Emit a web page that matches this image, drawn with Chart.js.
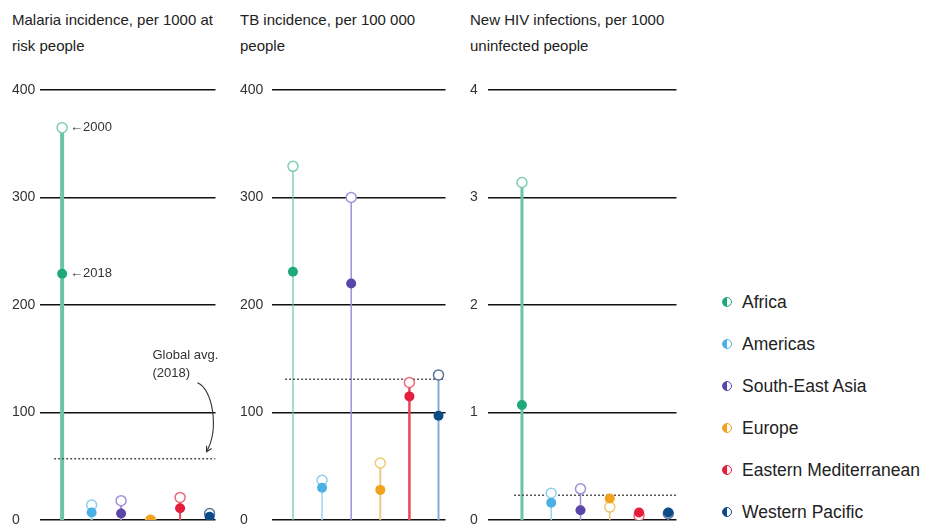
<!DOCTYPE html>
<html>
<head>
<meta charset="utf-8">
<script src="https://cdn.jsdelivr.net/npm/chart.js@4.4.0/dist/chart.umd.min.js"></script>
<style>
    html, body {
        margin: 0;
        padding: 0;
        width: 926px;
        height: 524px;
        overflow: hidden;
        background: #fff;
        font-family: "Liberation Sans", Arial, sans-serif;
    }
    .panel-title {
        position: absolute;
        top: 7px;
        font-size: 15px;
        line-height: 26px;
        color: #222;
        white-space: nowrap;
    }
    canvas {
        position: absolute;
        top: 70px;
    }
    #legend {
        position: absolute;
        left: 722px;
        top: 281px;
    }
    .legend-item {
        height: 42px;
        display: flex;
        align-items: center;
        font-size: 17.5px;
        color: #222;
        white-space: nowrap;
    }
    .legend-mark {
        width: 8px;
        height: 8px;
        border-radius: 50%;
        border: 1.5px solid;
        margin-right: 10px;
    }
</style>
</head>
<body>

<div class="panel-title" style="left:12px">Malaria incidence, per 1000 at<br>risk people</div>
<div class="panel-title" style="left:240px">TB incidence, per 100 000<br>people</div>
<div class="panel-title" style="left:470px">New HIV infections, per 1000<br>uninfected people</div>

<canvas id="malariaChart" width="210" height="470" style="left:12px"></canvas>
<canvas id="tbChart" width="212" height="470" style="left:240px"></canvas>
<canvas id="hivChart" width="213" height="470" style="left:470px"></canvas>

<div id="legend"></div>

<script>
    const regions = ['Africa', 'Americas', 'South-East Asia', 'Europe', 'Eastern Mediterranean', 'Western Pacific'];

    const malaria2000 = [365, 14, 18, 0, 21, 6];
    const malaria2018 = [229, 7, 6, 0, 11, 3];
    const malariaAvg2018 = 57;
    const malariaTicks = [0, 100, 200, 300, 400];

    const tb2000 = [329, 37, 300, 53, 128, 135];
    const tb2018 = [231, 30, 220, 28, 115, 97];
    const tbAvg2018 = 131;
    const tbTicks = [0, 100, 200, 300, 400];

    const hiv2000 = [3.14, 0.25, 0.29, 0.12, 0.04, 0.06];
    const hiv2018 = [1.07, 0.16, 0.09, 0.20, 0.07, 0.07];
    const hivAvg2018 = 0.23;
    const hivTicks = [0, 1, 2, 3, 4];

    const fillColors = ['#1fa97a', '#4bb0e6', '#5a45a8', '#f2a31b', '#e41e3c', '#0d4b87'];
    const openColors = ['#7fcdb2', '#8ccfee', '#a290d8', '#f0c86e', '#ec6a7c', '#56759a'];
    const stemColors = ['#6cc4a5', '#9fd4ee', '#a28fd8', '#e8c67a', '#e8475c', '#86acd2'];

    // where the first region sits and how wide the y label column is, per panel
    const panels = [
        { id: 'malariaChart', v2000: malaria2000, v2018: malaria2018, avg: malariaAvg2018, ticks: malariaTicks,
          axisWidth: 28, xMin: -0.75, xMax: 5.2, stemWidths: [4, 2, 2, 2, 2, 2], notes: true },
        { id: 'tbChart', v2000: tb2000, v2018: tb2018, avg: tbAvg2018, ticks: tbTicks,
          axisWidth: 32, xMin: -0.72, xMax: 5.24, stemWidths: [1.2, 1.5, 1.5, 1.8, 2.5, 2], notes: false },
        { id: 'hivChart', v2000: hiv2000, v2018: hiv2018, avg: hivAvg2018, ticks: hivTicks,
          axisWidth: 18, xMin: -1.16, xMax: 5.28, stemWidths: [3, 1.5, 1.5, 1.5, 1.5, 1.5], notes: false },
    ];

    const notesPlugin = {
        id: 'notes',
        afterDatasetsDraw(chart) {
            if (!chart.options.plugins.notes.show) return;
            const ctx = chart.ctx;
            const x = chart.scales.x;
            const y = chart.scales.y;
            const area = chart.chartArea;
            ctx.save();
            ctx.fillStyle = '#333';
            ctx.font = '13px "Liberation Sans", Arial, sans-serif';
            ctx.textBaseline = 'middle';
            ctx.textAlign = 'left';
            ctx.fillText('\u2190' + '2000', x.getPixelForValue(0) + 8, y.getPixelForValue(malaria2000[0]));
            ctx.fillText('\u2190' + '2018', x.getPixelForValue(0) + 8, y.getPixelForValue(malaria2018[0]));

            const yAvg = y.getPixelForValue(malariaAvg2018);
            const tx = area.right - 63;
            ctx.fillText('Global avg.', tx, yAvg - 103);
            ctx.fillText('(2018)', tx, yAvg - 85);

            // curved arrow down to the dotted line
            const sx = area.right - 18, sy = yAvg - 76;
            const ex = area.right - 9, ey = yAvg - 7;
            const c1x = area.right - 3, c1y = yAvg - 70;
            const c2x = area.right + 4, c2y = yAvg - 30;
            ctx.strokeStyle = '#333';
            ctx.lineWidth = 1.1;
            ctx.beginPath();
            ctx.moveTo(sx, sy);
            ctx.bezierCurveTo(c1x, c1y, c2x, c2y, ex, ey);
            ctx.stroke();
            const ang = Math.atan2(ey - c2y, ex - c2x);
            ctx.beginPath();
            ctx.moveTo(ex - 6 * Math.cos(ang - 0.5), ey - 6 * Math.sin(ang - 0.5));
            ctx.lineTo(ex, ey);
            ctx.lineTo(ex - 6 * Math.cos(ang + 0.5), ey - 6 * Math.sin(ang + 0.5));
            ctx.stroke();
            ctx.restore();
        }
    };

    function buildDatasets(p) {
        const datasets = [];
        datasets.push({
            label: '2018',
            data: regions.map((r, i) => ({ x: i, y: p.v2018[i] })),
            showLine: false,
            pointRadius: 5,
            pointBorderWidth: 0,
            pointBackgroundColor: fillColors,
            pointBorderColor: fillColors,
            order: 0
        });
        datasets.push({
            label: '2000',
            data: regions.map((r, i) => ({ x: i, y: p.v2000[i] })),
            showLine: false,
            pointRadius: 5,
            pointBorderWidth: 1.5,
            pointBackgroundColor: '#fff',
            pointBorderColor: openColors,
            order: 1
        });
        datasets.push({
            label: 'Global avg. (2018)',
            data: [{ x: -0.27, y: p.avg }, { x: p.xMax, y: p.avg }],
            borderColor: '#555',
            borderWidth: 1.5,
            borderDash: [2, 2],
            pointRadius: 0,
            order: 2
        });
        regions.forEach(function (r, i) {
            datasets.push({
                label: r,
                data: [{ x: i, y: 0 }, { x: i, y: Math.max(p.v2000[i], p.v2018[i]) }],
                borderColor: stemColors[i],
                borderWidth: p.stemWidths[i],
                pointRadius: 0,
                order: 3
            });
        });
        return datasets;
    }

    panels.forEach(function (p) {
        new Chart(document.getElementById(p.id), {
            type: 'line',
            data: { datasets: buildDatasets(p) },
            plugins: [notesPlugin],
            options: {
                responsive: false,
                animation: false,
                layout: { padding: { top: 20, bottom: 20, left: 0, right: 0 } },
                plugins: {
                    legend: { display: false },
                    tooltip: { enabled: false },
                    notes: { show: p.notes }
                },
                scales: {
                    x: {
                        type: 'linear',
                        display: false,
                        min: p.xMin,
                        max: p.xMax
                    },
                    y: {
                        min: p.ticks[0],
                        max: p.ticks[p.ticks.length - 1],
                        afterBuildTicks: function (axis) {
                            axis.ticks = p.ticks.map(v => ({ value: v }));
                        },
                        afterFit: function (axis) {
                            axis.width = p.axisWidth;
                        },
                        border: { display: false },
                        grid: {
                            color: '#111',
                            lineWidth: 1.5,
                            drawTicks: false
                        },
                        ticks: {
                            crossAlign: 'far',
                            padding: 5,
                            color: '#333',
                            font: { family: '"Liberation Sans", Arial, sans-serif', size: 14 }
                        }
                    }
                }
            }
        });
    });

    const legend = document.getElementById('legend');
    regions.forEach(function (r, i) {
        const item = document.createElement('div');
        item.className = 'legend-item';
        const mark = document.createElement('span');
        mark.className = 'legend-mark';
        mark.style.borderColor = fillColors[i];
        mark.style.background = 'linear-gradient(to right, ' + fillColors[i] + ' 50%, #fff 50%)';
        item.appendChild(mark);
        item.appendChild(document.createTextNode(r));
        legend.appendChild(item);
    });
</script>
</body>
</html>
